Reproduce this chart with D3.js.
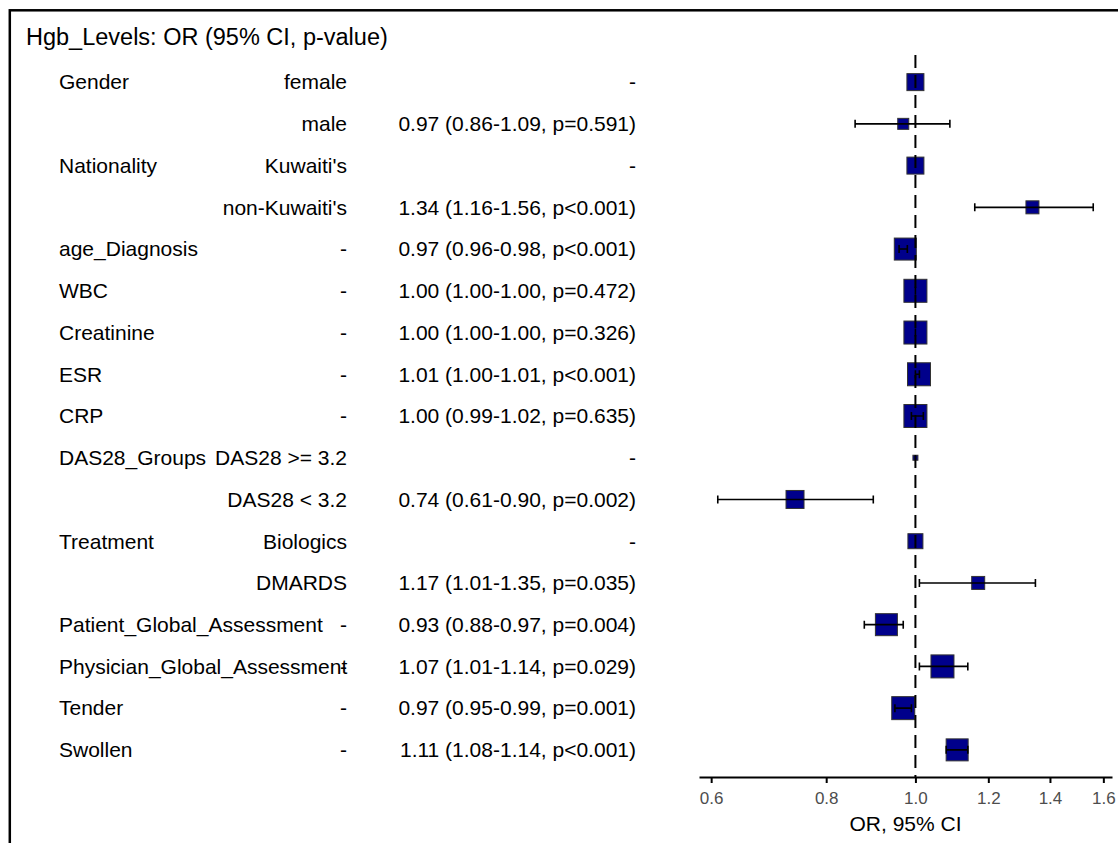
<!DOCTYPE html>
<html>
<head>
<meta charset="utf-8">
<script src="https://cdn.jsdelivr.net/npm/d3@7"></script>
<style>
  body { margin: 0; background: #fff; }
  svg { display: block; font-family: "Liberation Sans", Arial, Helvetica, sans-serif; }
</style>
</head>
<body>
<div id="chart"></div>
<script>
var width = 1118,
    height = 843;

// table columns
var variables = ["Gender", "", "Nationality", "", "age_Diagnosis", "WBC", "Creatinine", "ESR", "CRP",
                 "DAS28_Groups", "", "Treatment", "", "Patient_Global_Assessment",
                 "Physician_Global_Assessment", "Tender", "Swollen"];
var levels = ["female", "male", "Kuwaiti's", "non-Kuwaiti's", "-", "-", "-", "-", "-",
              "DAS28 >= 3.2", "DAS28 < 3.2", "Biologics", "DMARDS", "-", "-", "-", "-"];
var results = ["-", "0.97 (0.86-1.09, p=0.591)", "-", "1.34 (1.16-1.56, p<0.001)",
               "0.97 (0.96-0.98, p<0.001)", "1.00 (1.00-1.00, p=0.472)", "1.00 (1.00-1.00, p=0.326)",
               "1.01 (1.00-1.01, p<0.001)", "1.00 (0.99-1.02, p=0.635)", "-", "0.74 (0.61-0.90, p=0.002)",
               "-", "1.17 (1.01-1.35, p=0.035)", "0.93 (0.88-0.97, p=0.004)", "1.07 (1.01-1.14, p=0.029)",
               "0.97 (0.95-0.99, p=0.001)", "1.11 (1.08-1.14, p<0.001)"];

// odds ratios and 95% CI (reference levels sit at 1 with no interval)
var oddsRatio = [1, 0.97, 1, 1.34, 0.975, 1.00, 1.00, 1.009, 1.00, 1, 0.74, 1, 1.17, 0.93, 1.07, 0.97, 1.11];
var lower95 = [null, 0.86, null, 1.16, 0.96, 1.00, 1.00, 1.00, 0.99, null, 0.61, null, 1.01, 0.88, 1.01, 0.95, 1.08];
var upper95 = [null, 1.09, null, 1.56, 0.98, 1.00, 1.00, 1.01, 1.02, null, 0.90, null, 1.35, 0.97, 1.14, 0.99, 1.14];
// observations per row, sets the box size
var rowCount = [546, 229, 546, 319, 915, 1000, 1000, 1000, 1000, 47, 612, 425, 319, 915, 1000, 1000, 915];

var xTicks = [0.6, 0.8, 1.0, 1.2, 1.4, 1.6];
var title = "Hgb_Levels: OR (95% CI, p-value)";
var xTitle = "OR, 95% CI";

var svg = d3.select("#chart").append("svg")
    .attr("width", width)
    .attr("height", height);

var panel = {left: 699, right: 1112, top: 55, bottom: 777};

var y = d3.scalePoint()
    .domain(d3.range(variables.length))
    .range([panel.top, panel.bottom])
    .padding(0.65);

// log scale, 5% expansion on each side like ggplot
var lo = Math.log(d3.min(lower95)),
    hi = Math.log(d3.max(upper95)),
    pad = (hi - lo) * 0.05;
var x = d3.scaleLog()
    .domain([Math.exp(lo - pad), Math.exp(hi + pad)])
    .range([panel.left, panel.right]);

var size = d3.scaleSqrt().domain([0, d3.max(rowCount)]).range([0, 23]);

// frame
svg.append("rect")
    .attr("x", 9.8).attr("y", 10.3)
    .attr("width", width).attr("height", height)
    .attr("fill", "none")
    .attr("stroke", "#000")
    .attr("stroke-width", 2.5);

svg.append("text")
    .attr("x", 26).attr("y", 45)
    .style("font-size", "23.5px")
    .text(title);

// table
var table = svg.append("g").style("font-size", "21px").attr("fill", "#000");
var rows = d3.range(variables.length);

table.selectAll(".var").data(rows).enter().append("text")
    .attr("x", 59)
    .attr("y", function (d) { return y(d); })
    .attr("dy", "0.35em")
    .text(function (d) { return variables[d]; });

table.selectAll(".lev").data(rows).enter().append("text")
    .attr("x", 347)
    .attr("y", function (d) { return y(d); })
    .attr("dy", "0.35em")
    .attr("text-anchor", "end")
    .text(function (d) { return levels[d]; });

table.selectAll(".res").data(rows).enter().append("text")
    .attr("x", 636)
    .attr("y", function (d) { return y(d); })
    .attr("dy", "0.35em")
    .attr("text-anchor", "end")
    .text(function (d) { return results[d]; });

// boxes
svg.append("g").selectAll("rect").data(rows).enter().append("rect")
    .attr("x", function (d) { return x(oddsRatio[d]) - size(rowCount[d]) / 2; })
    .attr("y", function (d) { return y(d) - size(rowCount[d]) / 2; })
    .attr("width", function (d) { return size(rowCount[d]); })
    .attr("height", function (d) { return size(rowCount[d]); })
    .attr("fill", "#00008B")
    .attr("stroke", "#333")
    .attr("stroke-width", 1);

// error bars
var ci = rows.filter(function (d) { return lower95[d] != null; });
var bars = svg.append("g")
    .attr("stroke", "#000")
    .attr("stroke-width", 1.6)
    .attr("fill", "none");

bars.selectAll(".bar").data(ci).enter().append("path")
    .attr("d", function (d) {
        var x0 = x(lower95[d]), x1 = x(upper95[d]), yy = y(d), c = 4;
        return "M" + x0 + "," + (yy - c) + "V" + (yy + c) +
               "M" + x0 + "," + yy + "H" + x1 +
               "M" + x1 + "," + (yy - c) + "V" + (yy + c);
    });

// reference line at OR = 1
svg.append("line")
    .attr("x1", x(1)).attr("x2", x(1))
    .attr("y1", panel.top).attr("y2", panel.bottom)
    .attr("stroke", "#000")
    .attr("stroke-width", 2)
    .attr("stroke-dasharray", "13,7");

// x axis
var axis = svg.append("g")
    .attr("transform", "translate(0," + panel.bottom + ")")
    .call(d3.axisBottom(x)
        .tickValues(xTicks)
        .tickFormat(d3.format(".1f"))
        .tickSize(6)
        .tickSizeOuter(0)
        .tickPadding(9));

axis.attr("font-size", 17).attr("font-family", "Liberation Sans, Arial, sans-serif");
axis.select(".domain").attr("stroke-width", 2);
axis.selectAll(".tick line").attr("stroke-width", 2);
axis.selectAll(".tick text").attr("fill", "#4D4D4D");

svg.append("text")
    .attr("x", (panel.left + panel.right) / 2)
    .attr("y", 831)
    .attr("text-anchor", "middle")
    .style("font-size", "21px")
    .text(xTitle);
</script>
</body>
</html>
